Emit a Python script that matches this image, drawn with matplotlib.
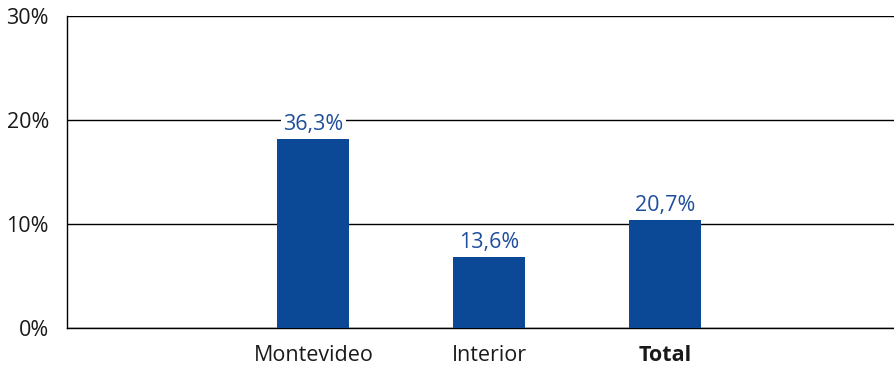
import matplotlib.pyplot as plt
from matplotlib.ticker import FixedLocator

plt.rcParams['font.family'] = ['Open Sans', 'DejaVu Sans']

# datos
categorias = ['Montevideo', 'Interior', 'Total']
valores = [36.3, 13.6, 20.7]
etiquetas = ['36,3%', '13,6%', '20,7%']
# ojo: las barras van con su valor real, pero el eje rotula la mitad
# (marca 60 -> "30%"), así la barra de 36,3% queda a la altura de 18%
ticks_y = [0, 20, 40, 60]
ticks_y_txt = ['0%', '10%', '20%', '30%']

azul = '#0B4896'

fig = plt.figure(figsize=(8.94, 3.66), dpi=100)
ax = fig.add_axes([67 / 894, 1 - 328 / 366, 827 / 894, 312 / 366])

x = range(len(categorias))
barras = ax.bar(x, valores, width=0.41, color=azul, zorder=3)

# etiqueta con fondo blanco para tapar la línea de grilla
for b, txt in zip(barras, etiquetas):
    ax.annotate(txt, (b.get_x() + b.get_width() / 2, b.get_height()),
                xytext=(0, 3), textcoords='offset points',
                ha='center', va='bottom', fontsize=15.5, color='#1F4E9C',
                zorder=2,
                bbox=dict(boxstyle='square,pad=0.1', fc='white', ec='none'))

ax.set_xlim(-1.4, 3.3)
ax.set_ylim(0, 60)
ax.yaxis.set_major_locator(FixedLocator(ticks_y))
ax.set_yticklabels(ticks_y_txt, fontsize=15.5)
ax.set_xticks(list(x))
ax.set_xticklabels(categorias, fontsize=15.5)
ax.get_xticklabels()[-1].set_fontweight('bold')
ax.tick_params(length=0, colors='#1a1a1a')
ax.tick_params(axis='x', pad=12)
ax.tick_params(axis='y', pad=13)

ax.grid(axis='y', color='black', linewidth=1.0, zorder=1)
for s in ['top', 'right']:
    ax.spines[s].set_visible(False)
for s in ['left', 'bottom']:
    ax.spines[s].set_color('black')
    ax.spines[s].set_linewidth(1.0)

plt.savefig('out.png', dpi=100)
